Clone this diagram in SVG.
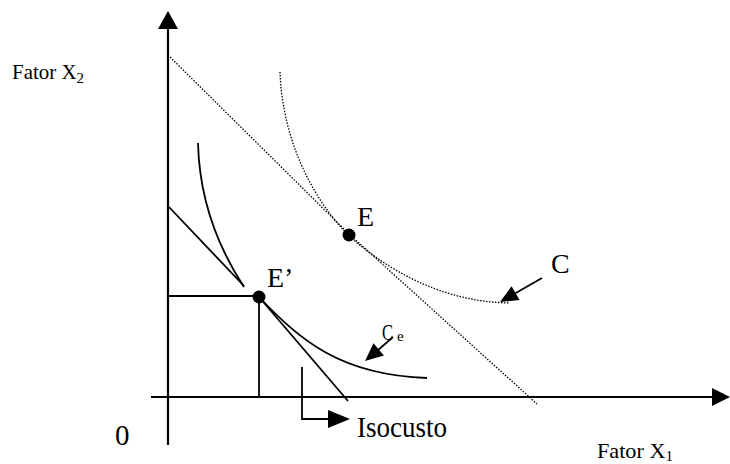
<svg xmlns="http://www.w3.org/2000/svg" width="730" height="464" viewBox="0 0 730 464">
  <style>
    text { font-family: "Liberation Serif", Tinos, "Times New Roman", "DejaVu Serif", serif; fill: #000; }
    .solid { fill: none; stroke: #000; stroke-width: 1.8; }
    .axis { fill: none; stroke: #000; stroke-width: 2.2; }
    .dot { fill: none; stroke: #000; stroke-width: 1.3; stroke-dasharray: 1.5 1.5; }
    .head { fill: #000; stroke: none; }
  </style>
  <rect width="730" height="464" fill="#fff"/>

  <g id="axes">
    <line class="axis" x1="168" y1="28" x2="168" y2="445"/>
    <polygon class="head" points="168,11 158,29 178,29"/>
    <line class="axis" x1="151" y1="397" x2="713" y2="397"/>
    <polygon class="head" points="730,397 712,388 712,406"/>
  </g>

  <g id="isocost-dotted">
    <polyline class="dot" points="170,57 349,234 537,404"/>
  </g>

  <g id="curve-C">
    <path class="dot" d="M280,72 C282,130 305,190 348,235 C385,268 440,302 510,303"/>
  </g>

  <g id="isocost-solid">
    <line class="solid" x1="169" y1="207" x2="244" y2="286"/>
    <line class="solid" x1="259" y1="297" x2="348" y2="401"/>
  </g>

  <g id="curve-Ce">
    <path class="solid" d="M198,143 C199,185 210,235 244,287"/>
    <path class="solid" d="M259,297 C300,340 340,375 427,378"/>
  </g>

  <g id="projections">
    <line class="solid" x1="168" y1="296" x2="259" y2="296"/>
    <line class="solid" x1="259" y1="297" x2="259" y2="397"/>
  </g>

  <g id="point-E">
    <circle cx="349" cy="235" r="6.5" fill="#000"/>
    <text x="357" y="226" font-size="28">E</text>
  </g>

  <g id="point-E-prime">
    <circle cx="259" cy="297" r="6.5" fill="#000"/>
    <text x="267" y="287" font-size="28">E’</text>
  </g>

  <g id="label-C">
    <text x="551" y="273" font-size="28">C</text>
  </g>

  <g id="label-Ce">
    <text x="382" y="340" font-size="24" textLength="11" lengthAdjust="spacingAndGlyphs">C</text>
    <text x="397" y="341" font-size="15">e</text>
  </g>

  <g id="label-isocusto">
    <text x="357" y="437" font-size="30" textLength="90" lengthAdjust="spacingAndGlyphs">Isocusto</text>
  </g>

  <g id="label-origin">
    <text x="115" y="445" font-size="29">0</text>
  </g>

  <g id="label-x1">
    <text x="597" y="458" font-size="22" textLength="76" lengthAdjust="spacingAndGlyphs">Fator X<tspan font-size="15" dy="3">1</tspan></text>
  </g>

  <g id="label-x2">
    <text x="12" y="79" font-size="21" textLength="72" lengthAdjust="spacingAndGlyphs">Fator X<tspan font-size="15" dy="4">2</tspan></text>
  </g>

  <g id="connectors">
    <line class="solid" x1="542" y1="278" x2="514" y2="294"/>
    <polygon class="head" points="500,302 519.6,300 511.6,286.2"/>
    <line class="solid" x1="393" y1="337" x2="377" y2="351"/>
    <polygon class="head" points="365,361 383.9,355.4 373.5,343.2"/>
    <polyline class="solid" points="302,367 302,419 330,419"/>
    <polygon class="head" points="350,419 328,410 328,428"/>
  </g>
</svg>
